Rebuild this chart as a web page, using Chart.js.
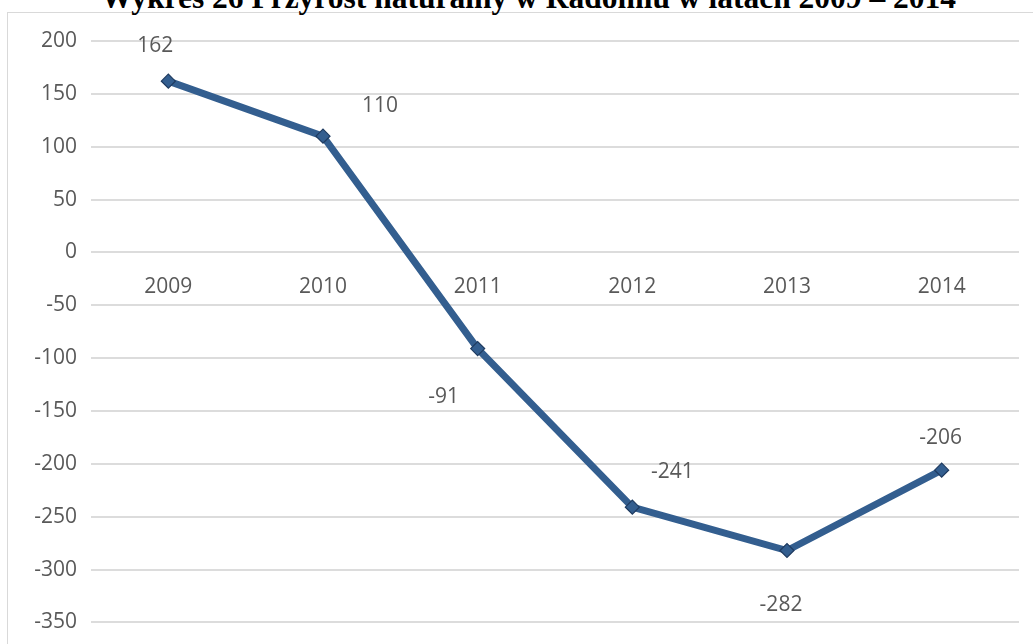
<!DOCTYPE html>
<html>
<head>
<meta charset="utf-8">
<script src="https://cdn.jsdelivr.net/npm/chart.js@4"></script>
<style>
  html, body { margin: 0; padding: 0; background: #fff; overflow: hidden; }
  #wrap { position: relative; width: 1033px; height: 644px; overflow: hidden; }
  #frame { position: absolute; left: 7px; top: 12px; width: 1100px; height: 700px;
           border-left: 1.5px solid #d9d9d9; border-top: 1.5px solid #d9d9d9; }
  #title { position: absolute; left: 0; top: -18px; width: 1057px; text-align: center;
           font: bold 31.5px "Liberation Serif", "Times New Roman", serif; line-height: 31px; color: #000; white-space: nowrap; }
  canvas { position: absolute; left: 0; top: 0; }
</style>
</head>
<body>
<div id="wrap">
  <div id="frame"></div>
  <div id="title">Wykres 26 Przyrost naturalny w Radomiu w latach 2009 – 2014</div>
  <canvas id="c" width="1033" height="649"></canvas>
</div>
<script>
const years  = ["2009", "2010", "2011", "2012", "2013", "2014"];
const growth = [162, 110, -91, -241, -282, -206];
// where each value label sits relative to its point (px)
const labelDx = [-13, 57, -34, 40, -6, -1];
const labelDy = [-35, -30, 48, -35, 54, -32];

const LINE = "#335e8f";
const TEXT = "#595959";

const valueLabels = {
  id: "valueLabels",
  afterDatasetsDraw(chart) {
    const ctx = chart.ctx;
    const pts = chart.getDatasetMeta(0).data;
    ctx.save();
    ctx.font = '21px "Open Sans"';
    ctx.fillStyle = TEXT;
    ctx.textAlign = "center";
    ctx.textBaseline = "middle";
    pts.forEach((p, i) => {
      ctx.fillText(String(growth[i]), p.x + labelDx[i], p.y + labelDy[i]);
    });
    ctx.restore();
  }
};

new Chart(document.getElementById("c"), {
  type: "line",
  data: {
    labels: years,
    datasets: [{
      data: growth,
      borderColor: LINE,
      borderWidth: 7,
      tension: 0,
      pointStyle: "rectRot",
      pointRadius: 7,
      pointBackgroundColor: LINE,
      pointBorderColor: "#1f3b60",
      pointBorderWidth: 1.2
    }]
  },
  options: {
    responsive: false,
    devicePixelRatio: 1,
    animation: false,
    layout: { padding: { top: 41, right: 14, bottom: 19, left: 0 } },
    plugins: { legend: { display: false }, tooltip: { enabled: false }, title: { display: false } },
    scales: {
      x: {
        position: { y: 0 },
        offset: true,
        grid: { display: false },
        border: { display: false },
        ticks: { color: TEXT, font: { family: "Open Sans", size: 21 }, padding: 14, maxRotation: 0 }
      },
      y: {
        min: -350, max: 200,
        ticks: { stepSize: 50, color: TEXT, font: { family: "Open Sans", size: 21 }, padding: 14 },
        grid: { color: "#dcdcdc", lineWidth: 2, drawTicks: false },
        border: { display: false },
        afterFit(s) { s.width = 91; }
      }
    }
  },
  plugins: [valueLabels]
});
</script>
</body>
</html>
